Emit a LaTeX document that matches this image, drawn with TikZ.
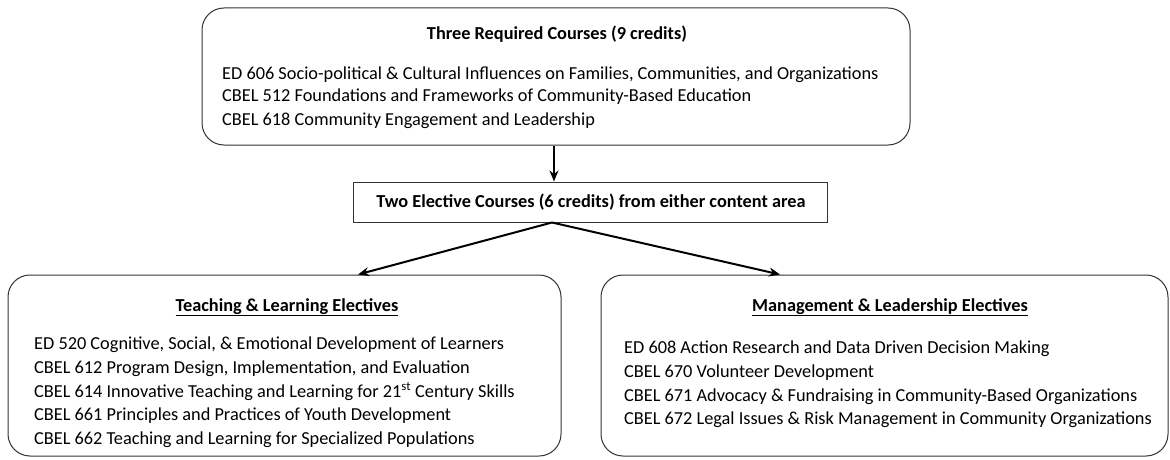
\documentclass[tikz,border=0pt]{standalone}
\usepackage{fontspec}
\setmainfont{Carlito}
\usetikzlibrary{arrows.meta,calc}
\begin{document}
\begin{tikzpicture}[x=1pt,y=-1pt,
  box/.style={draw=black!80,line width=1pt,rounded corners=22pt,inner sep=0pt},
  midbox/.style={draw=black!80,line width=1pt,inner sep=0pt},
  line/.style={anchor=base west,inner sep=0pt,font=\fontsize{18.3}{22}\selectfont},
  ttl/.style={anchor=base,inner sep=0pt,font=\fontsize{18.3}{22}\selectfont\bfseries},
  arr/.style={line width=2pt,-{Stealth[length=11pt,width=9pt]}}]
\useasboundingbox (0,0) rectangle (1170,460);
% boxes
\node[box,minimum width=708pt,minimum height=137pt] (top) at (556,76.5) {};
\node[midbox,minimum width=474pt,minimum height=40pt] (mid) at (590,202) {};
\node[box,minimum width=553pt,minimum height=181pt] (left) at (284.5,365.5) {};
\node[box,minimum width=567pt,minimum height=181pt] (right) at (884.5,365.5) {};
% top text
\node[ttl] (t0) at (557,40) {Three Required Courses (9 credits)};
\node[line] (t1) at (222,79) {ED 606 Socio-political \& Cultural Influences on Families, Communities, and Organizations};
\node[line] (t2) at (222,102) {CBEL 512 Foundations and Frameworks of Community-Based Education};
\node[line] (t3) at (222,125) {CBEL 618 Community Engagement and Leadership};
% middle text
\node[ttl] (m0) at (591,207) {Two Elective Courses (6 credits) from either content area};
% left text
\node[ttl] (l0) at (287,311) {\underline{Teaching \& Learning Electives}};
\node[line] (l1) at (34,349) {ED 520 Cognitive, Social, \& Emotional Development of Learners};
\node[line] (l2) at (34,373) {CBEL 612 Program Design, Implementation, and Evaluation};
\node[line] (l3) at (34,397) {CBEL 614 Innovative Teaching and Learning for 21\textsuperscript{st} Century Skills};
\node[line] (l4) at (34,420) {CBEL 661 Principles and Practices of Youth Development};
\node[line] (l5) at (34,444) {CBEL 662 Teaching and Learning for Specialized Populations};
% right text
\node[ttl] (r0) at (890,311) {\underline{Management \& Leadership Electives}};
\node[line] (r1) at (624,353) {ED 608 Action Research and Data Driven Decision Making};
\node[line] (r2) at (624,377) {CBEL 670 Volunteer Development};
\node[line] (r3) at (624,401) {CBEL 671 Advocacy \& Fundraising in Community-Based Organizations};
\node[line] (r4) at (624,424) {CBEL 672 Legal Issues \& Risk Management in Community Organizations};
% connectors
\coordinate (c1) at (554,0);
\coordinate (c2) at (552,0);
\coordinate (c3) at (358,0);
\coordinate (c4) at (780,0);
\draw[arr] (top.south -| c1) -- (mid.north -| c1);
\draw[arr] (mid.south -| c2) -- (left.north -| c3);
\draw[arr] (mid.south -| c2) -- (right.north -| c4);
\end{tikzpicture}
\end{document}
